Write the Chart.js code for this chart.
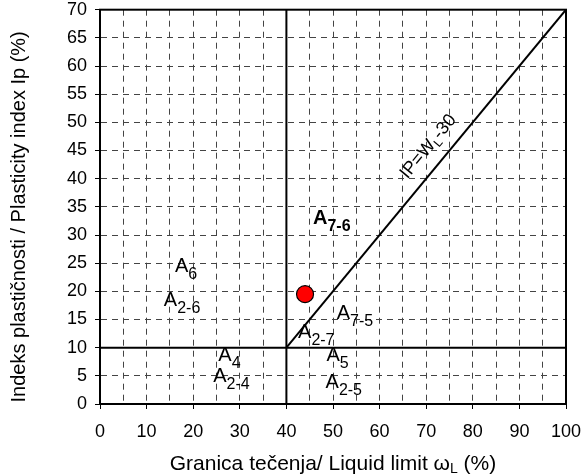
<!DOCTYPE html>
<html>
<head>
<meta charset="utf-8">
<script src="https://cdn.jsdelivr.net/npm/chart.js@4/dist/chart.umd.min.js"></script>
<style>
  html, body { margin: 0; padding: 0; background: #fff; }
  canvas { display: block; }
</style>
</head>
<body>
<canvas id="chart" width="581" height="474"></canvas>
<script>
// axis ranges
const xRange = [0, 100];
const yRange = [0, 70];

// measured sample
const samplePoint = [{ x: 44, y: 19.5 }];

// boundary lines of the classification chart
const liquidLimitLine = [{ x: 40, y: 0 }, { x: 40, y: 70 }];
const plasticityLine = [{ x: 0, y: 10 }, { x: 100, y: 10 }];
const ipLine = [{ x: 40, y: 10 }, { x: 100, y: 70 }];

// group labels (main letter, subscript, anchor in data units)
const groupMain = ['A', 'A', 'A', 'A', 'A', 'A', 'A', 'A', 'A'];
const groupSub = ['6', '2-6', '7-6', '7-5', '2-7', '4', '2-4', '5', '2-5'];
const groupX = [16.1, 13.7, 45.7, 50.8, 42.5, 25.4, 24.3, 48.6, 48.4];
const groupY = [23.5, 17.4, 32.0, 15.1, 11.8, 7.7, 3.9, 7.7, 2.8];
const groupBold = [false, false, true, false, false, false, false, false, false];

const FONT = '"Liberation Sans", Arial, sans-serif';

const textPlugin = {
  id: 'texts',
  afterDraw(chart) {
    const { ctx, chartArea: a, scales: { x, y } } = chart;
    ctx.save();

    // frame
    ctx.strokeStyle = '#000';
    ctx.lineWidth = 2;
    ctx.strokeRect(a.left, a.top, a.right - a.left, a.bottom - a.top);

    ctx.fillStyle = '#000';
    ctx.textBaseline = 'alphabetic';
    ctx.textAlign = 'left';

    // group labels
    groupMain.forEach((m, i) => {
      const w = groupBold[i] ? 'bold ' : '';
      const px = x.getPixelForValue(groupX[i]);
      const py = y.getPixelForValue(groupY[i]);
      ctx.font = w + '20px ' + FONT;
      ctx.fillText(m, px, py);
      const mw = ctx.measureText(m).width;
      ctx.font = w + '16px ' + FONT;
      ctx.fillText(groupSub[i], px + mw, py + 7);
    });

    // IP = WL - 30 label along the line
    const lx = x.getPixelForValue(70.3);
    const ly = y.getPixelForValue(45.8);
    const ang = Math.atan2(y.getPixelForValue(70) - y.getPixelForValue(10),
      x.getPixelForValue(100) - x.getPixelForValue(40));
    ctx.save();
    ctx.translate(lx, ly);
    ctx.rotate(ang);
    ctx.font = '18px ' + FONT;
    const p1 = 'IP=W', p2 = 'L', p3 = '-30';
    const w1 = ctx.measureText(p1).width;
    const w3 = ctx.measureText(p3).width;
    ctx.font = '12px ' + FONT;
    const w2 = ctx.measureText(p2).width;
    const sx = -(w1 + w2 + w3) / 2;
    ctx.font = '18px ' + FONT;
    ctx.fillText(p1, sx, 6);
    ctx.font = '12px ' + FONT;
    ctx.fillText(p2, sx + w1, 10);
    ctx.font = '18px ' + FONT;
    ctx.fillText(p3, sx + w1 + w2, 6);
    ctx.restore();

    // x title with subscript
    ctx.font = '21px ' + FONT;
    const t1 = 'Granica tečenja/ Liquid limit ω', t2 = 'L', t3 = ' (%)';
    const tw1 = ctx.measureText(t1).width, tw3 = ctx.measureText(t3).width;
    ctx.font = '14px ' + FONT;
    const tw2 = ctx.measureText(t2).width;
    const tx = (a.left + a.right) / 2 - (tw1 + tw2 + tw3) / 2;
    const ty = 470;
    ctx.font = '21px ' + FONT;
    ctx.fillText(t1, tx, ty);
    ctx.font = '14px ' + FONT;
    ctx.fillText(t2, tx + tw1, ty + 3);
    ctx.font = '21px ' + FONT;
    ctx.fillText(t3, tx + tw1 + tw2, ty);

    // y title
    ctx.save();
    ctx.translate(25, (a.top + a.bottom) / 2 + 10);
    ctx.rotate(-Math.PI / 2);
    ctx.textAlign = 'center';
    ctx.font = '20px ' + FONT;
    ctx.fillText('Indeks plastičnosti / Plasticity index Ip (%)', 0, 0);
    ctx.restore();

    ctx.restore();
  }
};

const lineStyle = {
  showLine: true,
  borderColor: '#000',
  borderWidth: 2,
  pointRadius: 0,
  fill: false
};

new Chart(document.getElementById('chart'), {
  type: 'scatter',
  data: {
    datasets: [
      { data: samplePoint, backgroundColor: '#ff0000', borderColor: '#000', borderWidth: 1.2, pointRadius: 8.5, order: 0 },
      Object.assign({ data: liquidLimitLine, order: 1 }, lineStyle),
      Object.assign({ data: plasticityLine, order: 1 }, lineStyle),
      Object.assign({ data: ipLine, order: 1 }, lineStyle)
    ]
  },
  options: {
    responsive: false,
    animation: false,
    layout: { padding: { left: 0, top: 6, right: 15, bottom: 0 } },
    plugins: { legend: { display: false }, tooltip: { enabled: false } },
    scales: {
      x: {
        type: 'linear',
        min: xRange[0],
        max: xRange[1],
        afterFit(s) { s.height = 70; s.paddingLeft = 0; s.paddingRight = 0; },
        ticks: {
          stepSize: 5,
          autoSkip: false,
          maxRotation: 0,
          padding: 12,
          color: '#000',
          font: { family: FONT, size: 18 },
          callback: v => (v % 10 === 0 ? v : '')
        },
        grid: {
          color: c => (c.tick && (c.tick.value === 0 || c.tick.value === 100 || c.tick.value === 40) ? 'transparent' : '#444'),
          lineWidth: 1,
          tickLength: 5,
          tickColor: c => (c.tick && c.tick.value % 10 === 0 ? '#000' : 'transparent')
        },
        border: { display: true, color: '#000', width: 2, dash: [6, 5] }
      },
      y: {
        type: 'linear',
        min: yRange[0],
        max: yRange[1],
        afterFit(s) { s.width = 100; s.paddingTop = 0; s.paddingBottom = 0; },
        ticks: {
          stepSize: 5,
          autoSkip: false,
          padding: 8,
          color: '#000',
          font: { family: FONT, size: 18 }
        },
        grid: {
          color: c => (c.tick && (c.tick.value === 0 || c.tick.value === 70 || c.tick.value === 10) ? 'transparent' : '#444'),
          lineWidth: 1,
          tickLength: 5,
          tickColor: '#000'
        },
        border: { display: true, color: '#000', width: 2, dash: [6, 5] }
      }
    }
  },
  plugins: [textPlugin]
});
</script>
</body>
</html>
